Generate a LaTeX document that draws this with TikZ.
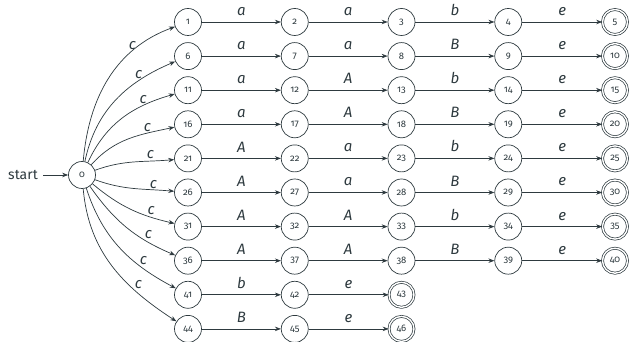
\documentclass[tikz,border=0pt]{standalone}
\usepackage{fontspec}
\setmainfont{Fira Sans}[Numbers=OldStyle]
\usetikzlibrary{arrows.meta}
\definecolor{ink}{HTML}{2E3A3F}
\begin{document}
\begin{tikzpicture}[x=1pt,y=1pt,
  stnode/.style={circle,draw=ink,line width=0.7pt,minimum size=27pt,inner sep=0pt,font=\fontsize{9.5}{10}\selectfont,text=ink},
  acc/.style={stnode,double,double distance=1.4pt,minimum size=25pt},
  edge/.style={draw=ink,line width=0.7pt,-{Stealth[length=6pt,width=4.5pt]}},
  lab/.style={font=\fontsize{15}{17}\selectfont\itshape,text=ink,inner sep=2pt},
  hl/.style={lab,above=4pt},
  clt/.style={lab,above,pos=0.72,inner sep=1.5pt},
  clb/.style={lab,auto,pos=0.7,inner sep=0.5pt}]
\useasboundingbox (0,0) rectangle (630,342);
\node[stnode] (n0) at (82,167) {0};
\node[anchor=east,text=ink,font=\fontsize{14}{16}\selectfont,inner sep=0pt] (st) at (38,167) {start};
\draw[edge] (st.east) ++(5pt,0) coordinate (sa) (sa) -- (n0);
\foreach \r/\p/\q/\s in {0/a/a/b,1/a/a/B,2/a/A/b,3/a/A/B,4/A/a/b,5/A/a/B,6/A/A/b,7/A/A/B}{
  \pgfmathsetmacro\yy{320-34.1*\r}
  \pgfmathtruncatemacro\ka{5*\r+1}
  \pgfmathtruncatemacro\kb{5*\r+2}
  \pgfmathtruncatemacro\kc{5*\r+3}
  \pgfmathtruncatemacro\kd{5*\r+4}
  \pgfmathtruncatemacro\ke{5*\r+5}
  \node[stnode] (n\ka) at (188,\yy) {\ka};
  \node[stnode] (n\kb) at (294.75,\yy) {\kb};
  \node[stnode] (n\kc) at (401.5,\yy) {\kc};
  \node[stnode] (n\kd) at (508.25,\yy) {\kd};
  \node[acc] (n\ke) at (615,\yy) {\ke};
  \draw[edge] (n\ka) -- node[hl] {\p} (n\kb);
  \draw[edge] (n\kb) -- node[hl] {\q} (n\kc);
  \draw[edge] (n\kc) -- node[hl] {\s} (n\kd);
  \draw[edge] (n\kd) -- node[hl] {e} (n\ke);
}
\node[stnode] (n41) at (188,47.2) {41};
\node[stnode] (n42) at (294.75,47.2) {42};
\node[acc] (n43) at (401.5,47.2) {43};
\node[stnode] (n44) at (188,13.1) {44};
\node[stnode] (n45) at (294.75,13.1) {45};
\node[acc] (n46) at (401.5,13.1) {46};
\draw[edge] (n41) -- node[hl] {b} (n42);
\draw[edge] (n42) -- node[hl] {e} (n43);
\draw[edge] (n44) -- node[hl] {B} (n45);
\draw[edge] (n45) -- node[hl] {e} (n46);
\foreach \t/\o/\i in {1/85/200,6/78/203,11/65/196,16/48/192,21/20/185}
  \draw[edge] (n0) to[out=\o,in=\i] node[clt] {c} (n\t);
\foreach \t/\o/\i in {26/-20/175,31/-40/167,36/-55/157,41/-72/152,44/-85/147}
  \draw[edge] (n0) to[out=\o,in=\i] node[clb] {c} (n\t);
\end{tikzpicture}
\end{document}
